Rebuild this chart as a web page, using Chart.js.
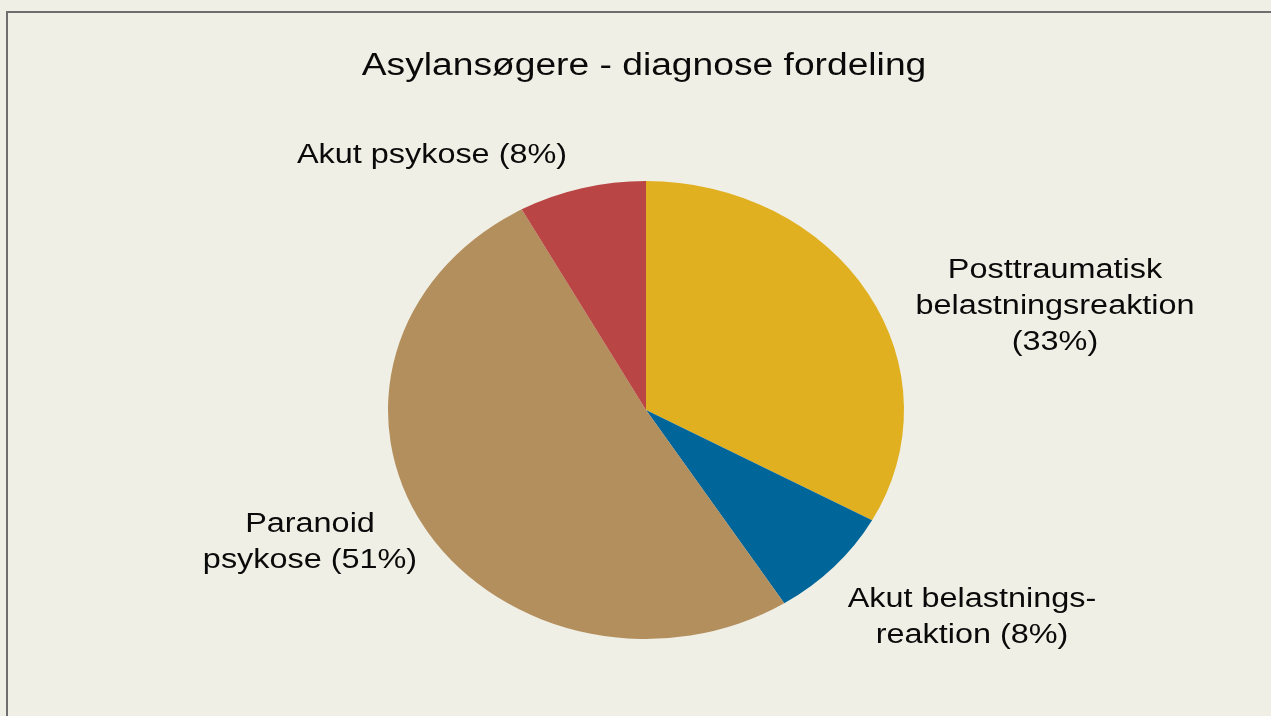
<!DOCTYPE html>
<html lang="da">
<head>
  <meta charset="UTF-8">
  <title>Asylansøgere - diagnose fordeling</title>
  <script src="https://cdn.jsdelivr.net/npm/chart.js"></script>
  <style>
    html, body { margin: 0; padding: 0; background: #efefe5; }
    #wrap { width: 1271px; height: 716px; position: relative; }
  </style>
</head>
<body>
  <div id="wrap"><canvas id="myChart" width="1271" height="716"></canvas></div>

  <script>
    // chart data
    const titleText = 'Asylansøgere - diagnose fordeling';
    const categories = ['Posttraumatisk belastningsreaktion', 'Akut belastningsreaktion', 'Paranoid psykose', 'Akut psykose'];
    const values = [33, 8, 51, 8];
    const sliceColors = ['#e1b021', '#006699', '#b48f5e', '#b94545'];
    // label text, split in lines as on the slide
    const labelLines = [
      ['Posttraumatisk', 'belastningsreaktion', '(33%)'],
      ['Akut belastnings-', 'reaktion (8%)'],
      ['Paranoid', 'psykose (51%)'],
      ['Akut psykose (8%)']
    ];

    // baseline of the first line of each label block, centred on x
    const labelAnchors = [[1055, 278], [972, 607], [310, 532], [432, 163]];
    const lineGap = 36;
    const squash = 229 / 258;  // pie is drawn as an ellipse
    const textStretch = 1.2;   // slide text is stretched sideways

    function wideText(ctx, t, x, y) {
      ctx.save();
      ctx.translate(x, y);
      ctx.scale(textStretch, 1);
      ctx.fillText(t, 0, 0);
      ctx.restore();
    }

    const slidePlugin = {
      id: 'slide',
      beforeDraw(chart) {
        const ctx = chart.ctx;
        ctx.save();
        ctx.fillStyle = '#efefe5';
        ctx.fillRect(0, 0, chart.width, chart.height);
        ctx.fillStyle = '#6e6e6e';
        ctx.fillRect(6, 11, chart.width - 6, 2);
        ctx.fillRect(6, 11, 2, chart.height - 11);
        ctx.restore();
      },
      beforeDatasetsDraw(chart) {
        const ctx = chart.ctx;
        const a = chart.chartArea;
        const cy = (a.top + a.bottom) / 2;
        ctx.save();
        ctx.translate(0, cy);
        ctx.scale(1, squash);
        ctx.translate(0, -cy);
      },
      afterDatasetsDraw(chart) {
        chart.ctx.restore();
      },
      afterDraw(chart) {
        const ctx = chart.ctx;
        ctx.save();
        ctx.fillStyle = '#0a0a0a';
        ctx.textAlign = 'center';
        ctx.textBaseline = 'alphabetic';
        ctx.font = '31px "Liberation Sans", Arial, sans-serif';
        wideText(ctx, titleText, 644, 75);
        ctx.font = '27px "Liberation Sans", Arial, sans-serif';
        labelLines.forEach((lines, i) => {
          const [x, y] = labelAnchors[i];
          lines.forEach((t, j) => wideText(ctx, t, x, y + j * lineGap));
        });
        ctx.restore();
      }
    };

    const ctx = document.getElementById('myChart').getContext('2d');
    new Chart(ctx, {
      type: 'pie',
      data: {
        labels: categories,
        datasets: [{
          data: values,
          backgroundColor: sliceColors,
          borderWidth: 0
        }]
      },
      options: {
        responsive: false,
        animation: false,
        layout: { padding: { left: 388, right: 367, top: 152, bottom: 48 } },
        plugins: {
          legend: { display: false },
          tooltip: { enabled: false },
          title: { display: false }
        }
      },
      plugins: [slidePlugin]
    });
  </script>
</body>
</html>
